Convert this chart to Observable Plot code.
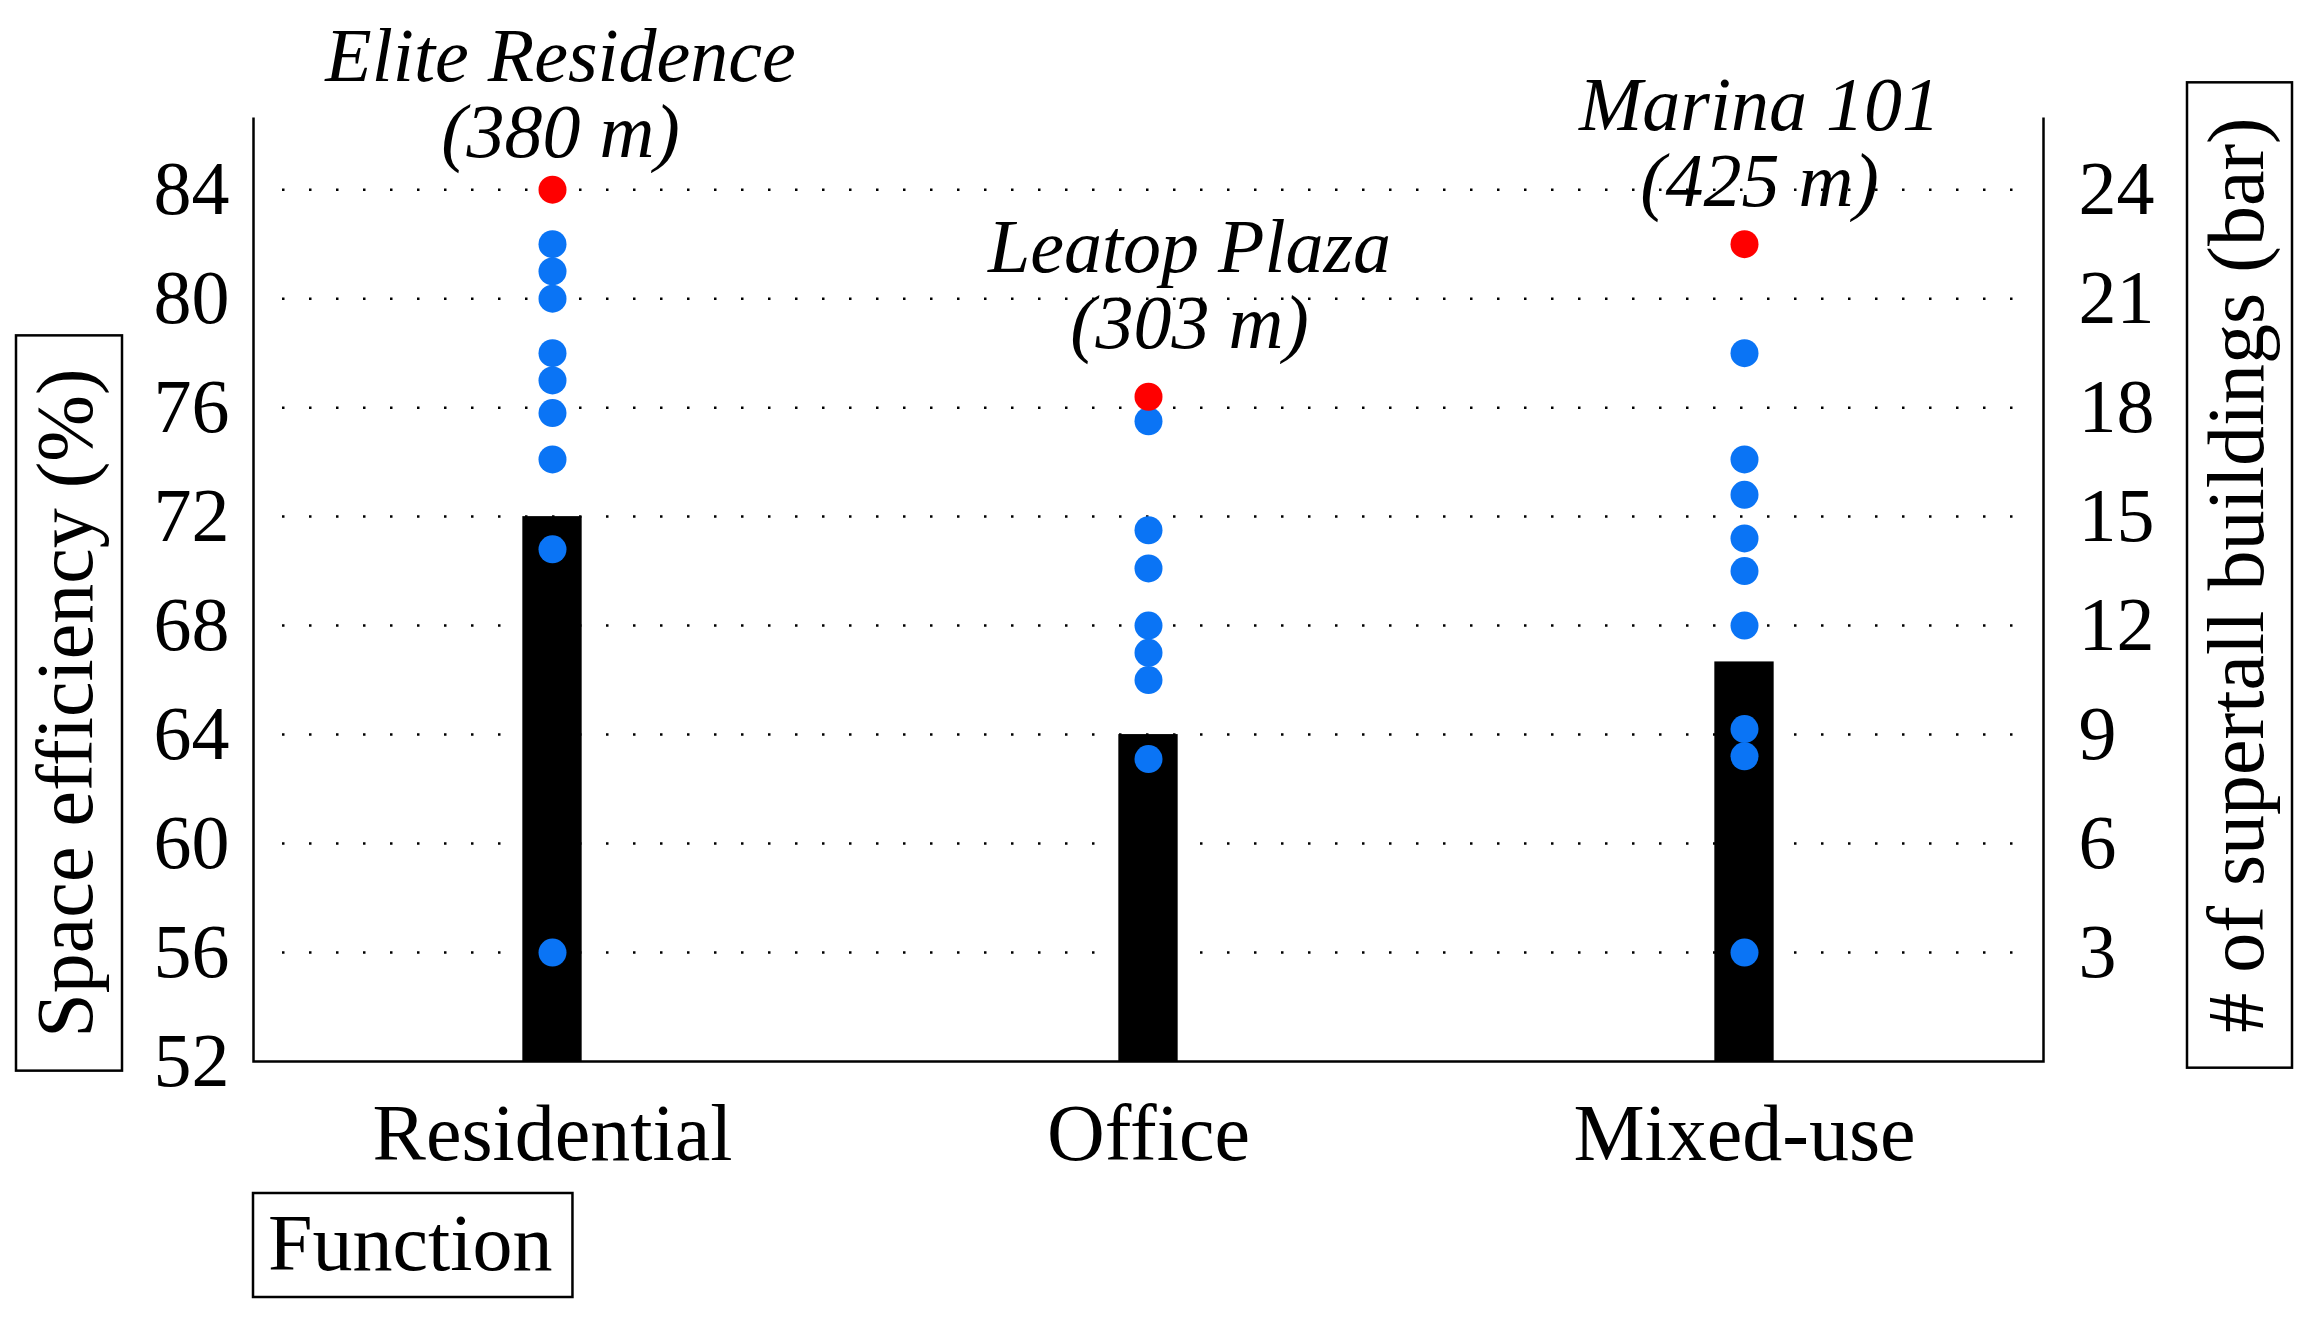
<!DOCTYPE html>
<html>
<head>
<meta charset="utf-8">
<script src="https://cdn.jsdelivr.net/npm/d3@7"></script>
<script src="https://cdn.jsdelivr.net/npm/@observablehq/plot@0.6"></script>
<style>
  body { margin: 0; background: #fff; }
</style>
</head>
<body>
<div id="chart"></div>
<script>
// building function (x axis)
const functions = ["Residential", "Office", "Mixed-use"];
// number of supertall buildings per function (bars, right axis)
const buildingCounts = [15, 9, 11];
// space efficiency (%) of the other buildings, blue dots
const residentialEff = [82, 81, 80, 78, 77, 75.8, 74.1, 70.8, 56];
const officeEff = [75.5, 71.5, 70.1, 68, 67, 66, 63.1];
const mixedEff = [78, 74.1, 72.8, 71.2, 70, 68, 64.2, 63.2, 56];
// most efficient building of each function, red dots
const topNames = ["Elite Residence", "Leatop Plaza", "Marina 101"];
const topHeights = [380, 303, 425];
const topEff = [84, 76.4, 82];
// tick labels
const effTicks = [52, 56, 60, 64, 68, 72, 76, 80, 84];
const countTicks = [3, 6, 9, 12, 15, 18, 21, 24];

// twin axis: 3 buildings for every 4 %, both starting at 52
const toEff = c => 52 + c * 4 / 3;
const toCount = e => Math.round((e - 52) * 3 / 4);

const effByFunction = [residentialEff, officeEff, mixedEff];
const dots = functions.flatMap((f, i) => effByFunction[i].map(v => ({fn: f, eff: v})));
const bars = functions.map((f, i) => ({fn: f, count: buildingCounts[i]}));
const tops = functions.map((f, i) => ({fn: f, name: topNames[i], height: topHeights[i], eff: topEff[i]}));

// label nudges for the building names
const nudgeX = [8, 41, 15];
const nudgeY = [-33, -49, -38];

const W = 2311, H = 1322;
const mL = 253, mR = 268, mT = 117, mB = 261;
const pw = W - mL - mR, ph = H - mT - mB;
const barW = 60;
const inset = (pw / functions.length - barW) / 2;

const chart = Plot.plot({
  width: W,
  height: H,
  marginLeft: mL,
  marginRight: mR,
  marginTop: mT,
  marginBottom: mB,
  style: {
    fontFamily: "'Liberation Serif', 'Times New Roman', serif",
    background: "white",
    color: "black",
    overflow: "visible"
  },
  x: {domain: functions, padding: 0},
  y: {domain: [52, 86.65]},
  marks: [
    Plot.ruleY(effTicks.slice(1), {
      stroke: "black", strokeWidth: 2.5, strokeDasharray: "2.5 24.5",
      insetLeft: 29, insetRight: 25
    }),
    Plot.barY(bars, {
      x: "fn", y1: 52, y2: d => toEff(d.count),
      fill: "black", insetLeft: inset, insetRight: inset
    }),
    Plot.dot(dots, {x: "fn", y: "eff", r: 14, fill: "#0a74f5"}),
    Plot.dot(tops, {x: "fn", y: "eff", r: 14, fill: "#ff0000"}),
    ...tops.map((d, i) => Plot.text([d], {
      x: "fn", y: "eff",
      text: t => `${t.name}\n(${t.height} m)`,
      lineAnchor: "bottom", lineHeight: 1.0,
      fontStyle: "italic", fontSize: 76, fill: "black",
      dx: nudgeX[i], dy: nudgeY[i]
    })),
    // left, bottom and right sides only (dash skips the top edge)
    Plot.frame({stroke: "black", strokeWidth: 2.5, strokeDasharray: `0 ${pw} ${2 * ph + pw}`}),
    Plot.axisY({
      anchor: "left", ticks: effTicks, tickSize: 0, tickPadding: 24,
      fontSize: 76, label: null
    }),
    Plot.axisY({
      anchor: "right", ticks: countTicks.map(toEff), tickFormat: toCount,
      tickSize: 0, tickPadding: 35, fontSize: 76, label: null
    }),
    Plot.axisX({tickSize: 0, tickPadding: 42, fontSize: 80, label: null})
  ]
});

d3.select("#chart").append(() => chart);

// axis titles in boxes
const svg = d3.select(chart);
function boxedLabel(text, x, y, angle, anchor, pad) {
  const g = svg.append("g").attr("transform", `translate(${x},${y}) rotate(${angle})`);
  const rect = g.append("rect");
  const t = g.append("text")
    .attr("text-anchor", anchor)
    .attr("font-size", 80)
    .attr("fill", "black")
    .text(text);
  const b = t.node().getBBox();
  rect.attr("x", b.x - pad.l)
    .attr("y", b.y - pad.t)
    .attr("width", b.width + pad.l + pad.r)
    .attr("height", b.height + pad.t + pad.b)
    .attr("fill", "white")
    .attr("stroke", "black")
    .attr("stroke-width", 2.5);
}

boxedLabel("Space efficiency (%)", 92, 703, -90, "middle", {l: 33, r: 33, t: 5, b: 12});
boxedLabel("# of supertall buildings (bar)", 2263, 575, -90, "middle", {l: 35, r: 35, t: 5, b: 11});
boxedLabel("Function", 268, 1270, 0, "start", {l: 15, r: 20, t: 6, b: 10});
</script>
</body>
</html>
